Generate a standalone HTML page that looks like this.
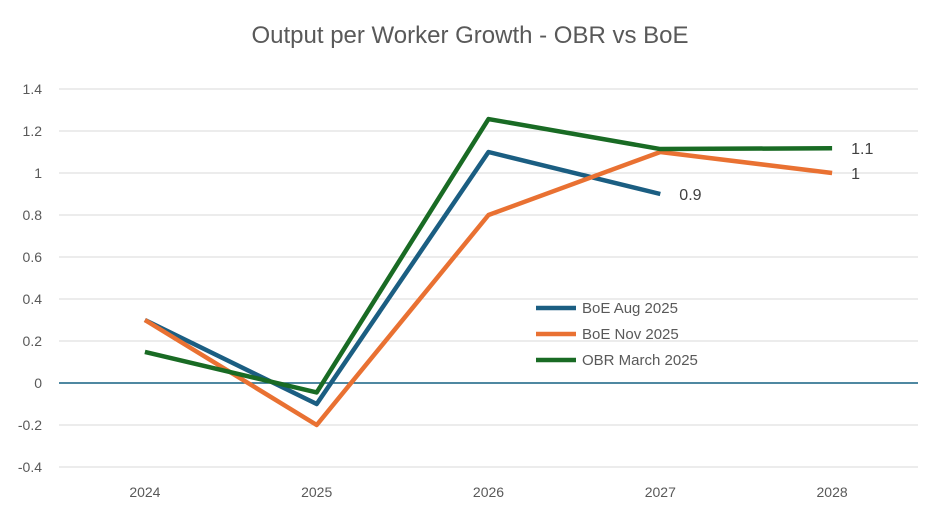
<!DOCTYPE html>
<html><head><meta charset="utf-8"><style>
body{margin:0;background:#fff;}
svg{display:block;font-family:"Liberation Sans",sans-serif;}
</style></head>
<body>
<svg id="chart" width="940" height="525"></svg>
<script>
const categories = ["2024","2025","2026","2027","2028"];
const yTicks = [1.4,1.2,1,0.8,0.6,0.4,0.2,0,-0.2,-0.4];
const yTickLabels = ["1.4","1.2","1","0.8","0.6","0.4","0.2","0","-0.2","-0.4"];
const boeAug = [0.3,-0.1,1.1,0.9];
const boeNov = [0.3,-0.2,0.8,1.1,1.0];
const obrMar = [0.148,-0.045,1.257,1.114,1.118];
const seriesNames = ["BoE Aug 2025","BoE Nov 2025","OBR March 2025"];
const endLabels = ["0.9","1","1.1"];

const NS="http://www.w3.org/2000/svg";
const svg=document.getElementById('chart');
const x0=59,x1=918,yTop=89,yBot=467,vMax=1.4,vMin=-0.4;
const xs=i=>x0+(x1-x0)/categories.length*(i+0.5);
const ys=v=>yTop+(vMax-v)/(vMax-vMin)*(yBot-yTop);
function mk(tag,attrs){const e=document.createElementNS(NS,tag);for(const k in attrs)e.setAttribute(k,attrs[k]);svg.appendChild(e);return e;}

const title=mk('text',{x:470,y:43,'text-anchor':'middle','font-size':24,fill:'#595959'});
title.textContent='Output per Worker Growth - OBR vs BoE';



yTicks.forEach((t,i)=>{
  const g=mk('line',{x1:x0,x2:x1,y1:ys(t),y2:ys(t),stroke:t===0?'#156082':'#d9d9d9','stroke-width':t===0?1.5:1});
  
  
  const l=mk('text',{x:42,y:ys(t)+5,'text-anchor':'end','font-size':14,fill:'#595959'});
  l.textContent=yTickLabels[i];
  
  
});
categories.forEach((c,i)=>{
  const l=mk('text',{x:xs(i),y:497,'text-anchor':'middle','font-size':14,fill:'#595959'});
  l.textContent=c;
  
  
});

const colors=['#1b5e82','#e97132','#196b24'];
const data=[boeAug,boeNov,obrMar];
const ids=['series-boe-aug','series-boe-nov','series-obr-march'];
data.forEach((arr,s)=>{
  const pts=arr.map((v,i)=>xs(i)+','+ys(v)).join(' ');
  const p=mk('polyline',{points:pts,fill:'none',stroke:colors[s],'stroke-width':4.5,'stroke-linejoin':'round'});
  
  
});
// end data labels
[[0,boeAug],[1,boeNov],[2,obrMar]].forEach(([s,arr])=>{
  const i=arr.length-1;
  const t=mk('text',{x:xs(i)+19,y:ys(arr[i])+6,'font-size':16,fill:'#404040'});
  t.textContent=endLabels[s];
  
  
});
// legend
seriesNames.forEach((n,s)=>{
  const y=308+s*26;
  const l=mk('line',{x1:536,x2:576,y1:y,y2:y,stroke:colors[s],'stroke-width':4.5});
  
  
  const t=mk('text',{x:582,y:y+5,'font-size':15,fill:'#595959'});
  t.textContent=n;
  
  
});
</script>
</body></html>
